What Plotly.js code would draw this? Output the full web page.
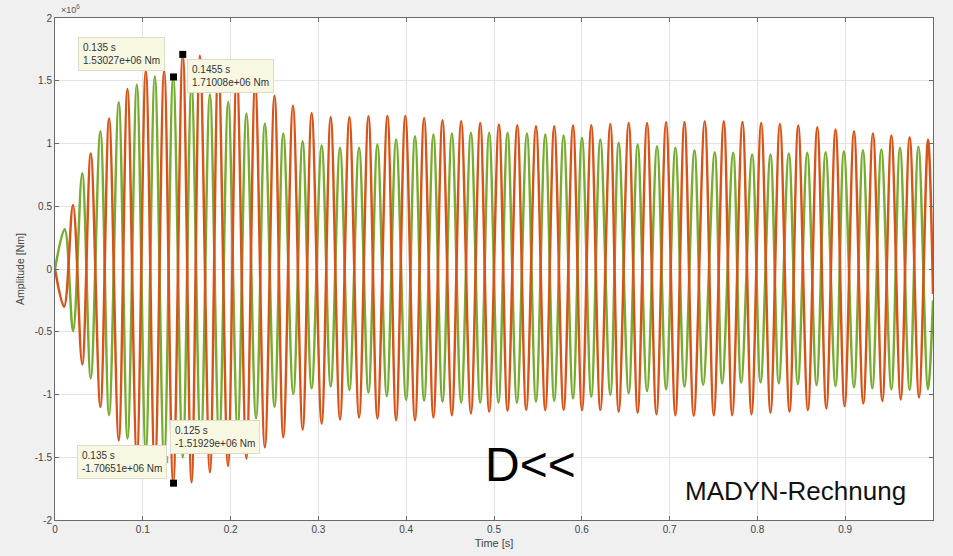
<!DOCTYPE html>
<html><head><meta charset="utf-8">
<script src="https://cdn.plot.ly/plotly-3.0.1.min.js"></script>
<style>html,body{margin:0;padding:0;background:#f0f0f0;}</style>
</head><body><div id="chart" style="width:953px;height:556px;"></div>
<script>
// values in units of 10^6 Nm, times in s (extrema)
const redTime = [0,0.0103,0.0205,0.031,0.0407,0.0517,0.0616,0.0726,0.0825,0.0932,0.1034,0.1137,0.1243,0.1346,0.1455,0.1555,0.1650,0.1764,0.186,0.197,0.207,0.218,0.228,0.239,0.250,0.260,0.271,0.2821,0.2923,0.3037,0.314,0.3246,0.3353,0.3463,0.357,0.3672,0.3786,0.3885,0.399,0.41,0.4204,0.431,0.4413,0.452,0.4626,0.4737,0.4843,0.4945,0.5056,0.5154,0.5265,0.5367,0.5478,0.5584,0.5686,0.5793,0.59,0.6002,0.6108,0.6211,0.6325,0.642,0.6534,0.6636,0.6743,0.685,0.696,0.7066,0.7169,0.7275,0.740,0.7503,0.7617,0.7713,0.783,0.7933,0.8043,0.8149,0.8256,0.8366,0.8465,0.8575,0.8682,0.8785,0.889,0.8993,0.910,0.9206,0.9316,0.9423,0.9526,0.9632,0.9734,0.9841,0.9943,1.0];
const redValue = [0,-0.30,0.51,-0.76,0.92,-1.10,1.20,-1.365,1.434,-1.50,1.58,-1.61,1.58,-1.707,1.710,-1.70,1.70,-1.62,1.64,-1.57,1.56,-1.51,1.48,-1.42,1.38,-1.34,1.30,-1.28,1.243,-1.232,1.212,-1.20,1.212,-1.183,1.217,-1.191,1.222,-1.205,1.222,-1.205,1.204,-1.183,1.185,-1.165,1.177,-1.151,1.164,-1.138,1.151,-1.13,1.145,-1.124,1.138,-1.124,1.138,-1.124,1.143,-1.124,1.145,-1.124,1.156,-1.138,1.164,-1.146,1.164,-1.157,1.169,-1.165,1.172,-1.17,1.177,-1.165,1.177,-1.165,1.172,-1.157,1.164,-1.146,1.156,-1.138,1.143,-1.124,1.13,-1.111,1.111,-1.092,1.098,-1.071,1.079,-1.052,1.063,-1.039,1.05,-1.023,1.032,-0.2];
const greenTime = [0,0.011,0.0206,0.031,0.0407,0.0517,0.0616,0.0726,0.0826,0.0932,0.1034,0.1137,0.1243,0.1346,0.1455,0.1555,0.166,0.1764,0.187,0.1973,0.208,0.218,0.229,0.239,0.250,0.260,0.2714,0.282,0.2923,0.3037,0.314,0.3246,0.3353,0.3463,0.357,0.3672,0.3779,0.3885,0.3999,0.41,0.4204,0.431,0.4413,0.452,0.4626,0.4737,0.4843,0.4945,0.5051,0.5154,0.5261,0.5375,0.5478,0.5584,0.5686,0.5793,0.59,0.6002,0.6108,0.6211,0.6325,0.642,0.6534,0.6636,0.6743,0.6857,0.696,0.7066,0.7169,0.7283,0.7382,0.7514,0.7599,0.7724,0.7815,0.794,0.8036,0.8149,0.8244,0.8358,0.846,0.8568,0.8674,0.8777,0.889,0.8985,0.91,0.9202,0.9309,0.9412,0.9526,0.9624,0.9734,0.9834,0.9943,1.0];
const greenValue = [0,0.317,-0.495,0.762,-0.87,1.098,-1.165,1.328,-1.35,1.468,-1.45,1.534,-1.519,1.530,-1.50,1.46,-1.43,1.39,-1.36,1.33,-1.28,1.24,-1.19,1.16,-1.10,1.08,-0.996,1.018,-0.95,0.984,-0.937,0.966,-0.964,0.966,-0.985,0.992,-1.012,1.032,-1.044,1.058,-1.05,1.071,-1.058,1.079,-1.063,1.085,-1.066,1.085,-1.066,1.085,-1.066,1.079,-1.058,1.071,-1.052,1.063,-1.031,1.045,-1.018,1.032,-1.004,1.005,-0.99,0.992,-0.972,0.979,-0.958,0.966,-0.937,0.947,-0.924,0.931,-0.91,0.926,-0.905,0.913,-0.905,0.913,-0.91,0.921,-0.916,0.926,-0.924,0.931,-0.932,0.939,-0.942,0.947,-0.95,0.952,-0.958,0.966,-0.964,0.974,-0.958,-0.25];
// data tips
const tipTime = [0.135, 0.1455, 0.135, 0.125];
const tipValue = [1.53027, 1.71008, -1.70651, -1.51929];
const tipColor = ['#000000','#000000','#000000','#9a9a9a'];
const tipLabel = ['0.135 s<br>1.53027e+06 Nm','0.1455 s<br>1.71008e+06 Nm','0.135 s<br>-1.70651e+06 Nm','0.125 s<br>-1.51929e+06 Nm'];
const tipBoxX = [0.026, 0.150, 0.0247, 0.131];
const tipBoxY = [1.85, 1.675, -1.405, -1.205];
const xTicks = [0,0.1,0.2,0.3,0.4,0.5,0.6,0.7,0.8,0.9];
const xTickText = ['0','0.1','0.2','0.3','0.4','0.5','0.6','0.7','0.8','0.9'];
const yTicks = [-2,-1.5,-1,-0.5,0,0.5,1,1.5,2];
const yTickText = ['-2','-1.5','-1','-0.5','0','0.5','1','1.5','2'];

const FONT = '"Liberation Sans", Arial, sans-serif';
const traces = [
  {x: greenTime, y: greenValue, mode:'lines', line:{color:'#77AC30', width:2.5, shape:'spline', smoothing:1}, hoverinfo:'skip'},
  {x: redTime, y: redValue, mode:'lines', line:{color:'#D95319', width:2.5, shape:'spline', smoothing:1}, hoverinfo:'skip'},
  {x: tipTime, y: tipValue, mode:'markers', marker:{symbol:'square', size:7, color:tipColor}, hoverinfo:'skip'}
];
const annotations = tipLabel.map((t,i)=>({
  x: tipBoxX[i], y: tipBoxY[i], xref:'x', yref:'y', xanchor:'left', yanchor:'top',
  text: t, showarrow:false, align:'left', font:{family:FONT, size:10, color:'#333'},
  bgcolor:'#f8f8e2', bordercolor:'#dcdcc8', borderwidth:1, borderpad:4
}));
annotations.push(
  {xref:'paper', yref:'paper', x:0.004, y:1, xanchor:'left', yanchor:'bottom', yshift:1, text:'×10<sup>6</sup>', showarrow:false, font:{family:FONT, size:9, color:'#555'}},
  {xref:'x', yref:'y', x:0.541, y:-1.56, xanchor:'center', yanchor:'middle', text:'D<<', showarrow:false, font:{family:FONT, size:48, color:'#000'}},
  {xref:'x', yref:'y', x:0.843, y:-1.77, xanchor:'center', yanchor:'middle', text:'MADYN-Rechnung', showarrow:false, font:{family:FONT, size:26, color:'#111'}}
);
const axisCommon = {showline:true, mirror:'ticks', linecolor:'#6a6a6a', linewidth:1, ticks:'inside', ticklen:4, tickcolor:'#6a6a6a',
  showgrid:true, gridcolor:'#e3e3e3', gridwidth:1, zeroline:false, tickfont:{family:FONT, size:10, color:'#444'}};
const layout = {
  width:953, height:556, paper_bgcolor:'#f0f0f0', plot_bgcolor:'#ffffff', showlegend:false,
  margin:{l:55, r:20, t:18, b:36},
  xaxis: Object.assign({}, axisCommon, {range:[0,1], tickvals:xTicks, ticktext:xTickText,
    title:{text:'Time [s]', font:{family:FONT, size:11, color:'#444'}, standoff:5}}),
  yaxis: Object.assign({}, axisCommon, {range:[-2,2], tickvals:yTicks, ticktext:yTickText,
    title:{text:'Amplitude [Nm]', font:{family:FONT, size:10.5, color:'#444'}, standoff:8}}),
  annotations: annotations
};
Plotly.newPlot('chart', traces, layout, {displayModeBar:false, staticPlot:true});
</script></body></html>
